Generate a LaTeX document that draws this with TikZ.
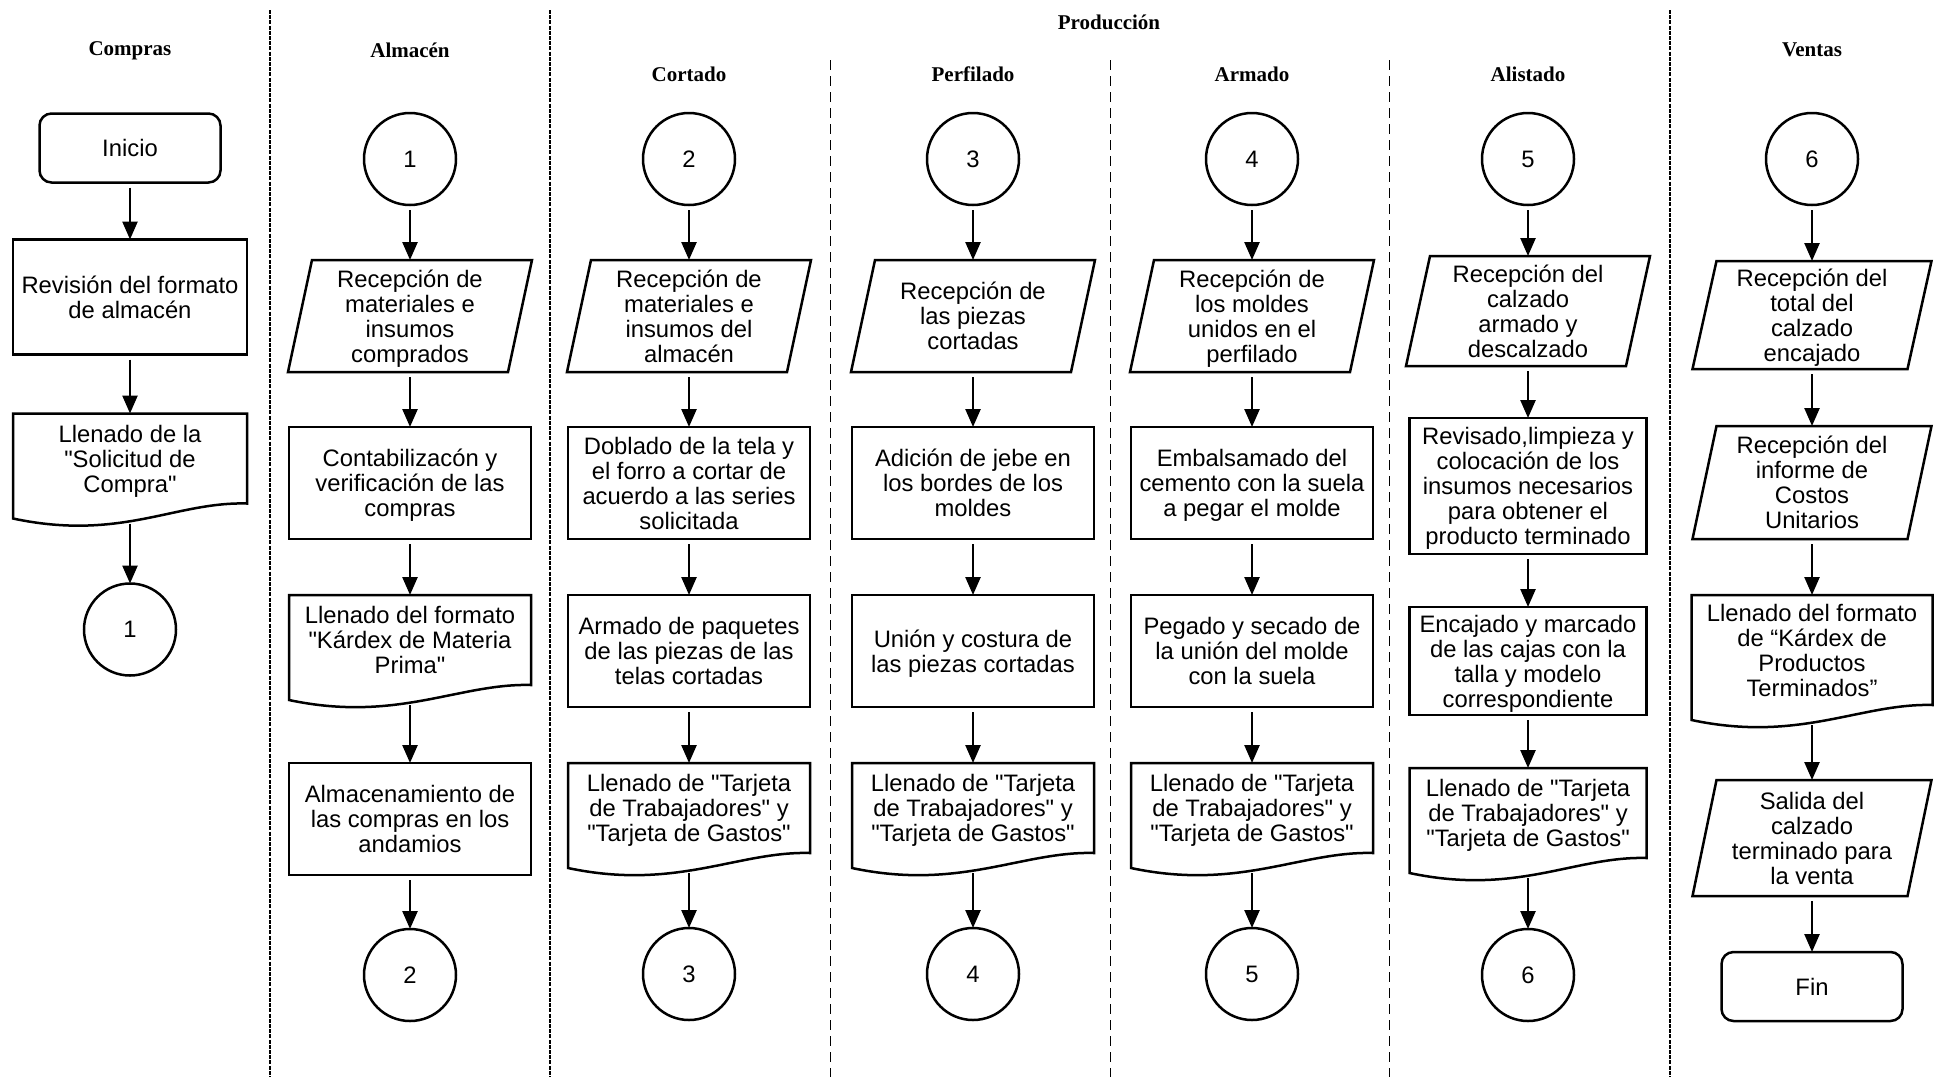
\documentclass[tikz,border=0pt]{standalone}
\usepackage{fontspec}
\setmainfont{Liberation Sans}[Ligatures=TeXOff]
\newfontfamily\headfont{Liberation Serif}
\usetikzlibrary{positioning, arrows.meta}
\tikzset{
	shapebase/.style={
		line width=1.25pt,
		inner sep=2pt,
		outer sep=0pt,
		align=center,
		font=\fontsize{11.9}{12.5}\selectfont
	},
	process/.style={shapebase, draw, rectangle, text depth=0pt, minimum width=121pt, minimum height=56pt},
	io/.style={shapebase, rectangle, text depth=0pt, minimum width=122pt, minimum height=56pt},
	doc/.style={shapebase, rectangle, text depth=0pt, minimum width=121pt, minimum height=45pt},
	conn/.style={shapebase, draw, circle, minimum size=46pt, inner sep=0pt},
	terminal/.style={shapebase, draw, rectangle, rounded corners=6pt, minimum width=90.5pt, minimum height=34.5pt},
	lanehead/.style={font=\headfont\bfseries\fontsize{10.5}{12}\selectfont},
	shapeline/.style={line width=1.25pt},
	flow/.style={-{Triangle[width=7.5pt,length=9pt]}, line width=1.25pt, shorten <=2.5pt},
	lanesep/.style={line width=1.1pt, dash pattern=on 2pt off 0.6pt},
	subsep/.style={line width=0.5pt, dash pattern=on 5pt off 3pt}
}

\begin{document}
\begin{tikzpicture}[x=0.5pt, y=-0.5pt]
	\useasboundingbox (0,0) rectangle (1943,1077);

	% lane separators
	\foreach \x in {270,550,1670} \draw[lanesep] (\x,10) -- (\x,1077);
	\foreach \x in {830,1110,1389} \draw[subsep] (\x,60) -- (\x,1077);

	% lane titles
	\node[lanehead] (compras) at (130,51) {Compras};
	\node[lanehead] (almacen) at (410,50) {Almacén};
	\node[lanehead] (produccion) at (1109,22) {Producción};
	\node[lanehead] (cortado) at (689,74) {Cortado};
	\node[lanehead] (perfilado) at (973,74) {Perfilado};
	\node[lanehead] (armado) at (1252,74) {Armado};
	\node[lanehead] (alistado) at (1528,74) {Alistado};
	\node[lanehead] (ventas) at (1812,50) {Ventas};

	% Compras
	\node[terminal] (com-1) at (130,148) {Inicio};
	\node[process, minimum width=117pt, minimum height=57.5pt, below=28.5pt of com-1] (com-2) {Revisión del formato\\de almacén};
	\node[doc, minimum width=117pt, below=29.5pt of com-2] (com-3) {Llenado de la\\"Solicitud de\\Compra"};
	\node[conn, below=40pt of com-3] (com-4) {1};

	% Almacen
	\node[conn] (alm-1) at (410,159) {1};
	\node[io, below=27.5pt of alm-1] (alm-2) {Recepción de\\materiales e\\insumos\\comprados};
	\node[process, below=27.5pt of alm-2] (alm-3) {Contabilizacón y\\verificación de las\\compras};
	\node[doc, below=28pt of alm-3] (alm-4) {Llenado del formato\\"Kárdex de Materia\\Prima"};
	\node[process, below=39pt of alm-4] (alm-5) {Almacenamiento de\\las compras en los\\andamios};
	\node[conn, below=27pt of alm-5] (alm-6) {2};

	% Cortado
	\node[conn] (cor-1) at (689,159) {2};
	\node[io, below=27.5pt of cor-1] (cor-2) {Recepción de\\materiales e\\insumos del\\almacén};
	\node[process, below=27.5pt of cor-2] (cor-3) {Doblado de la tela y\\el forro a cortar de\\acuerdo a las series\\solicitada};
	\node[process, below=28pt of cor-3] (cor-4) {Armado de paquetes\\de las piezas de las\\telas cortadas};
	\node[doc, below=28pt of cor-4] (cor-5) {Llenado de "Tarjeta\\de Trabajadores" y\\"Tarjeta de Gastos"};
	\node[conn, below=37.5pt of cor-5] (cor-6) {3};

	% Perfilado
	\node[conn] (per-1) at (973,159) {3};
	\node[io, below=27.5pt of per-1] (per-2) {Recepción de\\las piezas\\cortadas};
	\node[process, below=27.5pt of per-2] (per-3) {Adición de jebe en\\los bordes de los\\moldes};
	\node[process, below=28pt of per-3] (per-4) {Unión y costura de\\las piezas cortadas};
	\node[doc, below=28pt of per-4] (per-5) {Llenado de "Tarjeta\\de Trabajadores" y\\"Tarjeta de Gastos"};
	\node[conn, below=37.5pt of per-5] (per-6) {4};

	% Armado
	\node[conn] (arm-1) at (1252,159) {4};
	\node[io, below=27.5pt of arm-1] (arm-2) {Recepción de\\los moldes\\unidos en el\\perfilado};
	\node[process, below=27.5pt of arm-2] (arm-3) {Embalsamado del\\cemento con la suela\\a pegar el molde};
	\node[process, below=28pt of arm-3] (arm-4) {Pegado y secado de\\la unión del molde\\con la suela};
	\node[doc, below=28pt of arm-4] (arm-5) {Llenado de "Tarjeta\\de Trabajadores" y\\"Tarjeta de Gastos"};
	\node[conn, below=37.5pt of arm-5] (arm-6) {5};

	% Alistado
	\node[conn] (ali-1) at (1528,159) {5};
	\node[io, minimum height=55pt, below=25.5pt of ali-1] (ali-2) {Recepción del\\calzado\\armado y\\descalzado};
	\node[process, minimum width=118.5pt, minimum height=68pt, below=26pt of ali-2] (ali-3) {Revisado,limpieza y\\colocación de los\\insumos necesarios\\para obtener el\\producto terminado};
	\node[process, minimum width=118.5pt, minimum height=54pt, below=26.5pt of ali-3] (ali-4) {Encajado y marcado\\de las cajas con la\\talla y modelo\\correspondiente};
	\node[doc, minimum width=118.5pt, below=26.5pt of ali-4] (ali-5) {Llenado de "Tarjeta\\de Trabajadores" y\\"Tarjeta de Gastos"};
	\node[conn, below=35.5pt of ali-5] (ali-6) {6};

	% Ventas
	\node[conn] (ven-1) at (1812,159) {6};
	\node[io, minimum width=119.5pt, minimum height=54pt, below=28pt of ven-1] (ven-2) {Recepción del\\total del\\calzado\\encajado};
	\node[io, minimum width=119.5pt, minimum height=56.5pt, below=28.5pt of ven-2] (ven-3) {Recepción del\\informe de\\Costos\\Unitarios};
	\node[doc, minimum width=120.5pt, minimum height=55pt, below=28pt of ven-3] (ven-4) {Llenado del formato\\de “Kárdex de\\Productos\\Terminados”};
	\node[io, minimum width=119.5pt, minimum height=58pt, below=37.5pt of ven-4] (ven-5) {Salida del\\calzado\\terminado para\\la venta};
	\node[terminal, below=28pt of ven-5] (ven-6) {Fin};

	% input/output shapes
	\foreach \nd in {alm-2, cor-2, per-2, arm-2, ali-2, ven-2, ven-3, ven-5}
		\draw[shapeline] (\nd.south west) -- ([xshift=12pt]\nd.north west) -- (\nd.north east) -- ([xshift=-12pt]\nd.south east) -- cycle;

	% document shapes
	\foreach \nd in {com-3, alm-4, cor-5, per-5, arm-5, ali-5, ven-4}
		\draw[shapeline] (\nd.north west) -- (\nd.north east) -- (\nd.south east) .. controls +(-72,-2) and +(108,23) .. ([yshift=-7.5pt]\nd.south west) -- cycle;

	% flow arrows
	\begin{scope}[flow]
	\foreach \a/\b in {com-1/com-2, com-2/com-3,
		alm-1/alm-2, alm-2/alm-3, alm-3/alm-4, alm-5/alm-6,
		cor-1/cor-2, cor-2/cor-3, cor-3/cor-4, cor-4/cor-5,
		per-1/per-2, per-2/per-3, per-3/per-4, per-4/per-5,
		arm-1/arm-2, arm-2/arm-3, arm-3/arm-4, arm-4/arm-5,
		ali-1/ali-2, ali-2/ali-3, ali-3/ali-4, ali-4/ali-5,
		ven-1/ven-2, ven-2/ven-3, ven-3/ven-4, ven-5/ven-6}
		\draw (\a) -- (\b);
	% leaving a document
	\foreach \a/\b in {com-3/com-4, alm-4/alm-5, cor-5/cor-6, per-5/per-6, arm-5/arm-6, ali-5/ali-6, ven-4/ven-5}
		\draw[shorten <=10pt] (\a) -- (\b);
	\end{scope}
\end{tikzpicture}
\end{document}
